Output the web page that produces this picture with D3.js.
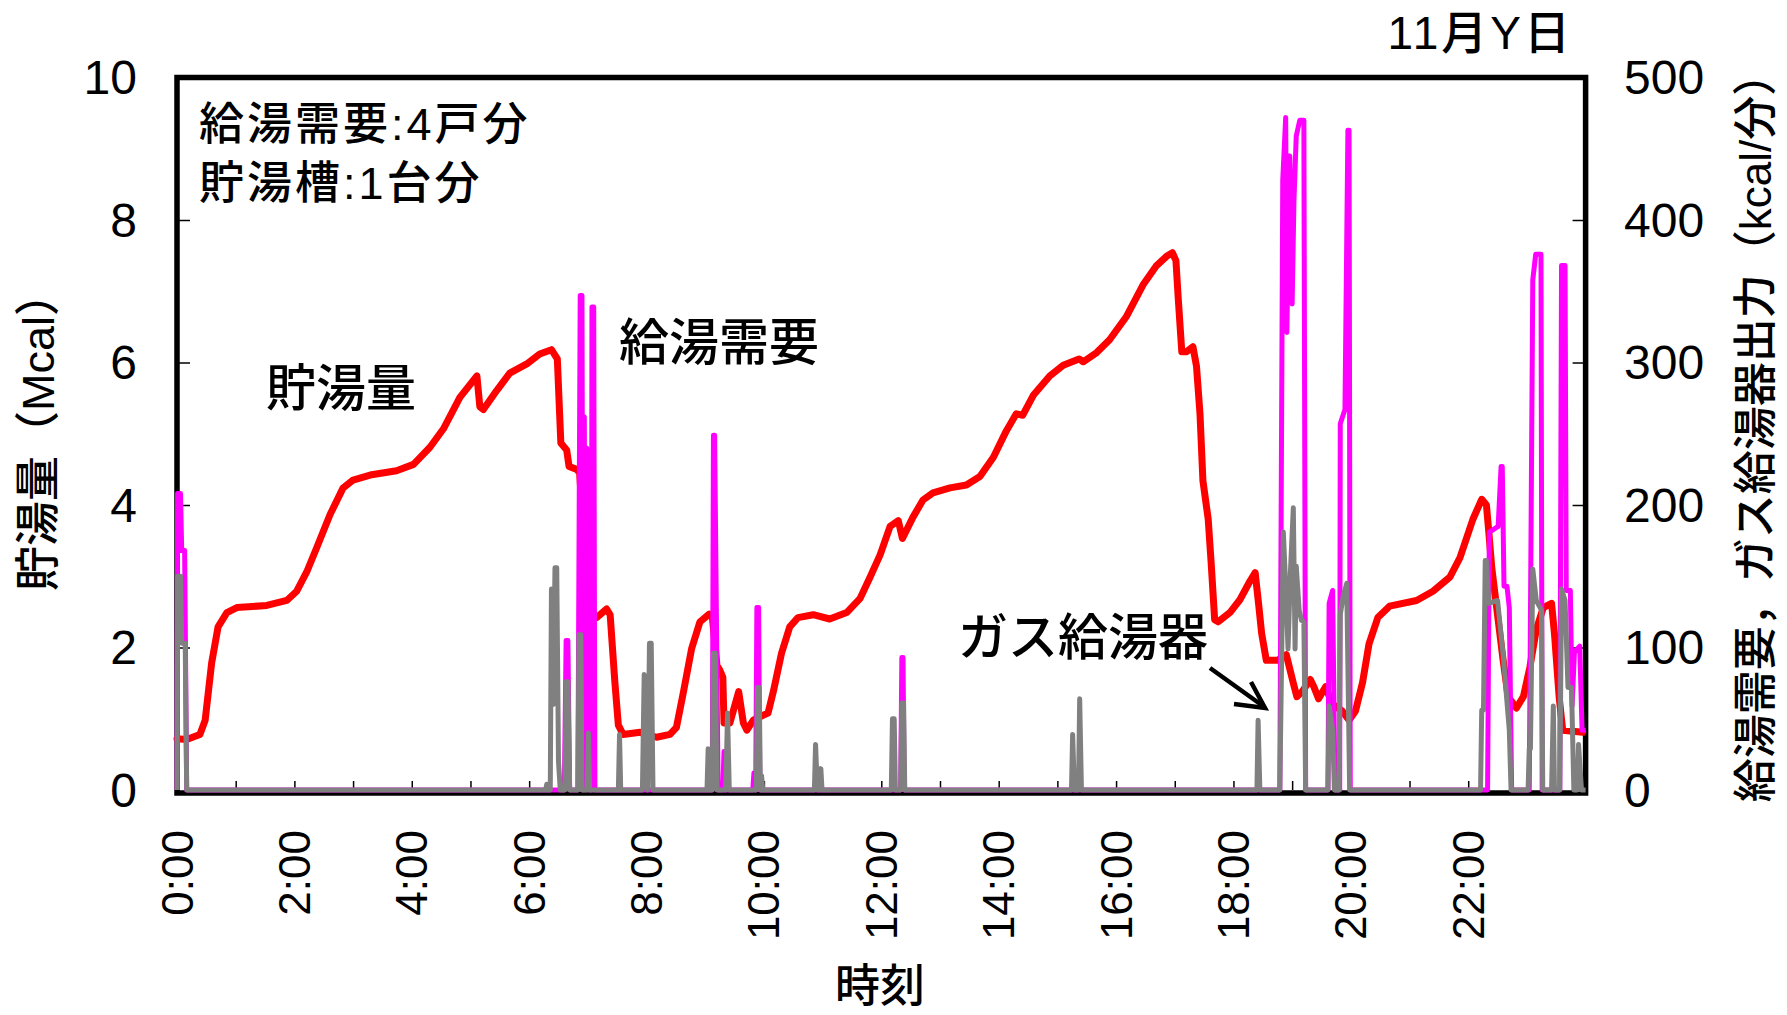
<!DOCTYPE html>
<html><head><meta charset="utf-8">
<script src="https://cdn.jsdelivr.net/npm/d3@7"></script>
<style>body{margin:0;background:#fff}</style>
</head><body>
<svg id="c" width="1787" height="1015"></svg>
<script>
// ---- data ----
const hours = [0,2,4,6,8,10,12,14,16,18,20,22];
const hourLabels = ["0:00","2:00","4:00","6:00","8:00","10:00","12:00","14:00","16:00","18:00","20:00","22:00"];
const minorHours = [1,2,3,4,5,6,7,8,9,10,11,12,13,14,15,16,17,18,19,20,21,22,23];
const leftTicks = [0,2,4,6,8,10];
const rightTicks = [0,100,200,300,400,500];

// stored hot water (Mcal) [hour, value]
const storage = [[0,0.72],[0.165,0.71],[0.39,0.78],[0.48,0.98],[0.59,1.78],[0.70,2.29],[0.85,2.49],[1.02,2.56],[1.53,2.59],[1.87,2.66],[2.04,2.79],[2.21,3.06],[2.38,3.40],[2.61,3.87],[2.83,4.24],[3.00,4.35],[3.29,4.42],[3.74,4.48],[4.03,4.57],[4.31,4.81],[4.54,5.07],[4.82,5.51],[5.11,5.81],[5.16,5.38],[5.22,5.34],[5.45,5.61],[5.67,5.85],[5.96,5.98],[6.18,6.12],[6.38,6.18],[6.48,6.05],[6.54,4.87],[6.64,4.77],[6.68,4.54],[6.81,4.50],[6.86,4.45],[6.95,3.3],[7.05,2.45],[7.15,2.42],[7.32,2.54],[7.38,2.46],[7.46,1.52],[7.52,0.91],[7.60,0.78],[7.89,0.81],[8.17,0.74],[8.40,0.78],[8.51,0.88],[8.63,1.38],[8.77,1.99],[8.91,2.36],[9.07,2.47],[9.12,2.44],[9.2,1.75],[9.25,1.68],[9.30,1.58],[9.32,0.94],[9.42,0.94],[9.57,1.38],[9.65,0.94],[9.71,0.84],[9.82,0.98],[9.99,1.05],[10.07,1.08],[10.16,1.38],[10.30,1.92],[10.44,2.29],[10.58,2.42],[10.84,2.46],[11.12,2.40],[11.41,2.49],[11.64,2.69],[11.81,2.99],[11.98,3.30],[12.15,3.70],[12.29,3.78],[12.36,3.53],[12.54,3.83],[12.71,4.07],[12.88,4.17],[13.17,4.24],[13.45,4.28],[13.68,4.40],[13.91,4.67],[14.13,5.04],[14.30,5.28],[14.41,5.26],[14.59,5.54],[14.87,5.81],[15.10,5.96],[15.37,6.05],[15.44,6.01],[15.67,6.14],[15.89,6.32],[16.18,6.65],[16.46,7.09],[16.69,7.36],[16.86,7.49],[16.96,7.54],[17.02,7.43],[17.06,6.89],[17.12,6.15],[17.20,6.15],[17.31,6.22],[17.37,5.95],[17.43,5.28],[17.48,4.34],[17.57,3.80],[17.62,3.19],[17.68,2.39],[17.74,2.36],[17.94,2.49],[18.11,2.67],[18.28,2.93],[18.37,3.05],[18.43,2.6],[18.48,2.2],[18.56,1.82],[18.75,1.82],[18.9,1.9],[19.02,1.5],[19.08,1.31],[19.17,1.38],[19.31,1.55],[19.37,1.45],[19.45,1.28],[19.57,1.45],[19.68,1.21],[19.85,1.11],[19.97,0.98],[20.08,1.11],[20.2,1.51],[20.31,2.05],[20.46,2.42],[20.66,2.58],[21.12,2.66],[21.40,2.79],[21.69,2.99],[21.86,3.26],[22.08,3.80],[22.23,4.08],[22.31,4.00],[22.35,3.63],[22.40,3.13],[22.48,2.59],[22.59,1.85],[22.68,1.31],[22.82,1.15],[22.94,1.31],[23.05,1.72],[23.16,2.25],[23.28,2.56],[23.42,2.62],[23.47,2.19],[23.55,1.3],[23.61,0.84],[23.95,0.81]];

// hot water demand (kcal/min) [hour, value]
const demand = [[0,0],[0.01,208],[0.06,208],[0.08,168],[0.13,168],[0.165,0],
[6.60,0],[6.63,105],[6.66,105],[6.69,0],
[6.83,0],[6.87,347],[6.90,347],[6.92,0],[6.94,262],[6.96,0],[6.98,240],[7.01,234],[7.03,0],[7.06,0],[7.07,339],[7.10,339],[7.12,0],
[9.12,0],[9.14,249],[9.16,249],[9.22,0],[9.30,0],[9.32,27],[9.34,0],
[9.81,0],[9.83,12],[9.86,0],[9.88,128],[9.91,128],[9.93,0],
[12.33,0],[12.35,93],[12.37,93],[12.39,0],
[18.79,0],[18.84,428],[18.89,472],[18.91,321],[18.96,445],[19.00,341],[19.03,412],[19.07,459],[19.13,470],[19.20,470],[19.23,0],
[19.61,0],[19.63,131],[19.69,140],[19.73,0],
[19.81,0],[19.82,257],[19.90,267],[19.95,463],[19.97,463],[19.99,0],
[22.33,0],[22.36,181],[22.51,185],[22.56,227],[22.58,227],[22.61,143],[22.66,143],[22.70,128],[22.74,0],
[23.04,0],[23.10,358],[23.15,376],[23.24,376],[23.26,0],
[23.56,0],[23.59,368],[23.65,368],[23.67,140],[23.74,140],[23.77,59],[23.81,97],[23.90,101],[23.94,42],[24,42]];

// gas water heater output (kcal/min) [hour, value]
const heater = [[0,0],[0.01,150],[0.06,150],[0.08,103],[0.14,103],[0.165,0],
[6.28,0],[6.30,4],[6.32,0],[6.36,0],[6.38,141],[6.41,60],[6.44,156],[6.47,156],[6.50,20],[6.53,0],
[6.61,0],[6.63,76],[6.66,76],[6.69,0],
[6.83,0],[6.85,109],[6.88,109],[6.90,0],[6.99,0],[7.01,40],[7.03,0],
[7.52,0],[7.54,39],[7.56,0],
[7.93,0],[7.96,81],[7.99,20],[8.02,0],[8.05,103],[8.08,103],[8.11,0],
[9.03,0],[9.05,29],[9.07,0],[9.12,0],[9.14,96],[9.17,96],[9.20,0],[9.35,0],[9.38,54],[9.41,0],
[9.87,0],[9.89,72],[9.92,72],[9.94,0],[9.96,10],[9.98,0],
[10.86,0],[10.88,32],[10.91,0],[10.95,0],[10.97,15],[10.99,0],
[12.17,0],[12.19,50],[12.22,50],[12.24,0],[12.33,0],[12.35,61],[12.38,61],[12.40,0],
[15.24,0],[15.26,39],[15.29,0],[15.36,0],[15.38,64],[15.41,0],
[18.40,0],[18.42,49],[18.45,0],
[18.79,0],[18.85,181],[18.89,143],[18.93,99],[18.97,152],[19.02,198],[19.05,99],[19.07,157],[19.12,126],[19.16,119],[19.20,118],[19.23,0],
[19.61,0],[19.63,59],[19.69,42],[19.72,0],
[19.80,0],[19.82,123],[19.87,136],[19.93,145],[19.98,0],
[22.21,0],[22.23,56],[22.26,56],[22.29,161],[22.31,161],[22.35,131],[22.50,133],[22.60,93],[22.65,67],[22.70,42],[22.73,0],
[23.02,0],[23.04,29],[23.06,29],[23.10,155],[23.16,133],[23.25,126],[23.27,0],
[23.42,0],[23.45,59],[23.47,0],[23.56,0],[23.59,141],[23.65,133],[23.70,72],[23.76,72],[23.80,0],[23.86,0],[23.88,32],[23.93,0],[24,0]];

// ---- layout ----
const FONT = '"Liberation Sans", Arial, "Noto Sans CJK JP", sans-serif';
const L = 177, R = 1585.6, T = 77.5, B = 790;
const svg = d3.select("#c");
const x = d3.scaleLinear().domain([0,24]).range([L,R]);
const yL = d3.scaleLinear().domain([0,10]).range([B,T]);
const yR = d3.scaleLinear().domain([0,500]).range([B,T]);

// frame
svg.append("rect").attr("x",L).attr("y",T).attr("width",R-L).attr("height",B+3-T)
  .attr("fill","none").attr("stroke","#000").attr("stroke-width",5.5);

// ticks (inside)
const gx = svg.append("g").attr("transform",`translate(0,${B})`)
  .call(d3.axisBottom(x).tickValues(minorHours).tickSize(-9).tickFormat(""));
gx.select(".domain").remove();
const gl = svg.append("g").attr("transform",`translate(${L},0)`)
  .call(d3.axisLeft(yL).tickValues(leftTicks.slice(1,-1)).tickSize(-13).tickFormat(""));
gl.select(".domain").remove();
const gr = svg.append("g").attr("transform",`translate(${R},0)`)
  .call(d3.axisRight(yR).tickValues(rightTicks.slice(1,-1)).tickSize(-13).tickFormat(""));
gr.select(".domain").remove();
svg.selectAll(".tick line").attr("stroke","#000").attr("stroke-width",1.5);

// tick labels
svg.append("g").selectAll("text").data(leftTicks).join("text")
  .attr("x",137).attr("y",d=>yL(d)).attr("text-anchor","end").attr("dominant-baseline","central")
  .attr("font-family",FONT).attr("font-size",48).text(d=>d);
svg.append("g").selectAll("text").data(rightTicks).join("text")
  .attr("x",1624).attr("y",d=>yR(d)).attr("text-anchor","start").attr("dominant-baseline","central")
  .attr("font-family",FONT).attr("font-size",48).text(d=>d);
svg.append("g").selectAll("text").data(hours).join("text")
  .attr("transform",d=>`translate(${x(d)},830) rotate(-90)`).attr("text-anchor","end").attr("dominant-baseline","central")
  .attr("font-family",FONT).attr("font-size",44).text((d,i)=>hourLabels[i]);

// axis titles
svg.append("text").attr("x",880).attr("y",986).attr("text-anchor","middle").attr("dominant-baseline","central")
  .attr("font-family",FONT).attr("font-size",45).attr("font-weight",500).text("時刻");
svg.append("text").attr("transform","translate(38,431) rotate(-90)").attr("text-anchor","middle").attr("dominant-baseline","central")
  .attr("font-family",FONT).attr("font-size",45).attr("font-weight",500).text("貯湯量（Mcal）");
svg.append("text").attr("transform","translate(1755,427) rotate(-90)").attr("text-anchor","middle").attr("dominant-baseline","central")
  .attr("font-family",FONT).attr("font-size",44).attr("font-weight",500).text("給湯需要，ガス給湯器出力（kcal/分）");
svg.append("text").attr("x",1573).attr("y",33).attr("text-anchor","end").attr("dominant-baseline","central")
  .attr("font-family",FONT).attr("font-size",46).attr("letter-spacing",3).attr("font-weight",500).text("11月Y日");

// lines
const lineL = d3.line().x(d=>x(d[0])).y(d=>yL(d[1]));
const lineR = d3.line().x(d=>x(d[0])).y(d=>yR(d[1]));
svg.append("path").attr("d",lineL(storage)).attr("fill","none").attr("stroke","#FF0000").attr("stroke-width",7).attr("stroke-linejoin","round").attr("stroke-linecap","round");
svg.append("path").attr("d",lineR(demand)).attr("fill","none").attr("stroke","#FF00FF").attr("stroke-width",5).attr("stroke-linejoin","round");
svg.append("path").attr("d",lineR(heater)).attr("fill","none").attr("stroke","#808080").attr("stroke-width",5).attr("stroke-linejoin","round");

// annotations
function label(t,xx,yy,fs,ls){
  svg.append("text").attr("x",xx).attr("y",yy).attr("dominant-baseline","central")
    .attr("font-family",FONT).attr("font-size",fs).attr("font-weight",500).attr("letter-spacing",ls||0).text(t);
}
label("給湯需要:4戸分",199,124,45,3);
label("貯湯槽:1台分",199,183,45,3);
label("貯湯量",266,389,50,0);
label("給湯需要",619,343,50,0);
label("ガス給湯器",958,638,50,0);

// arrow
svg.append("line").attr("x1",1210).attr("y1",668).attr("x2",1263).attr("y2",706).attr("stroke","#000").attr("stroke-width",4.5);
svg.append("path").attr("d","M1251,682 L1265,708 L1234,704").attr("fill","none").attr("stroke","#000").attr("stroke-width",4.5).attr("stroke-linejoin","miter");
</script>
</body></html>
